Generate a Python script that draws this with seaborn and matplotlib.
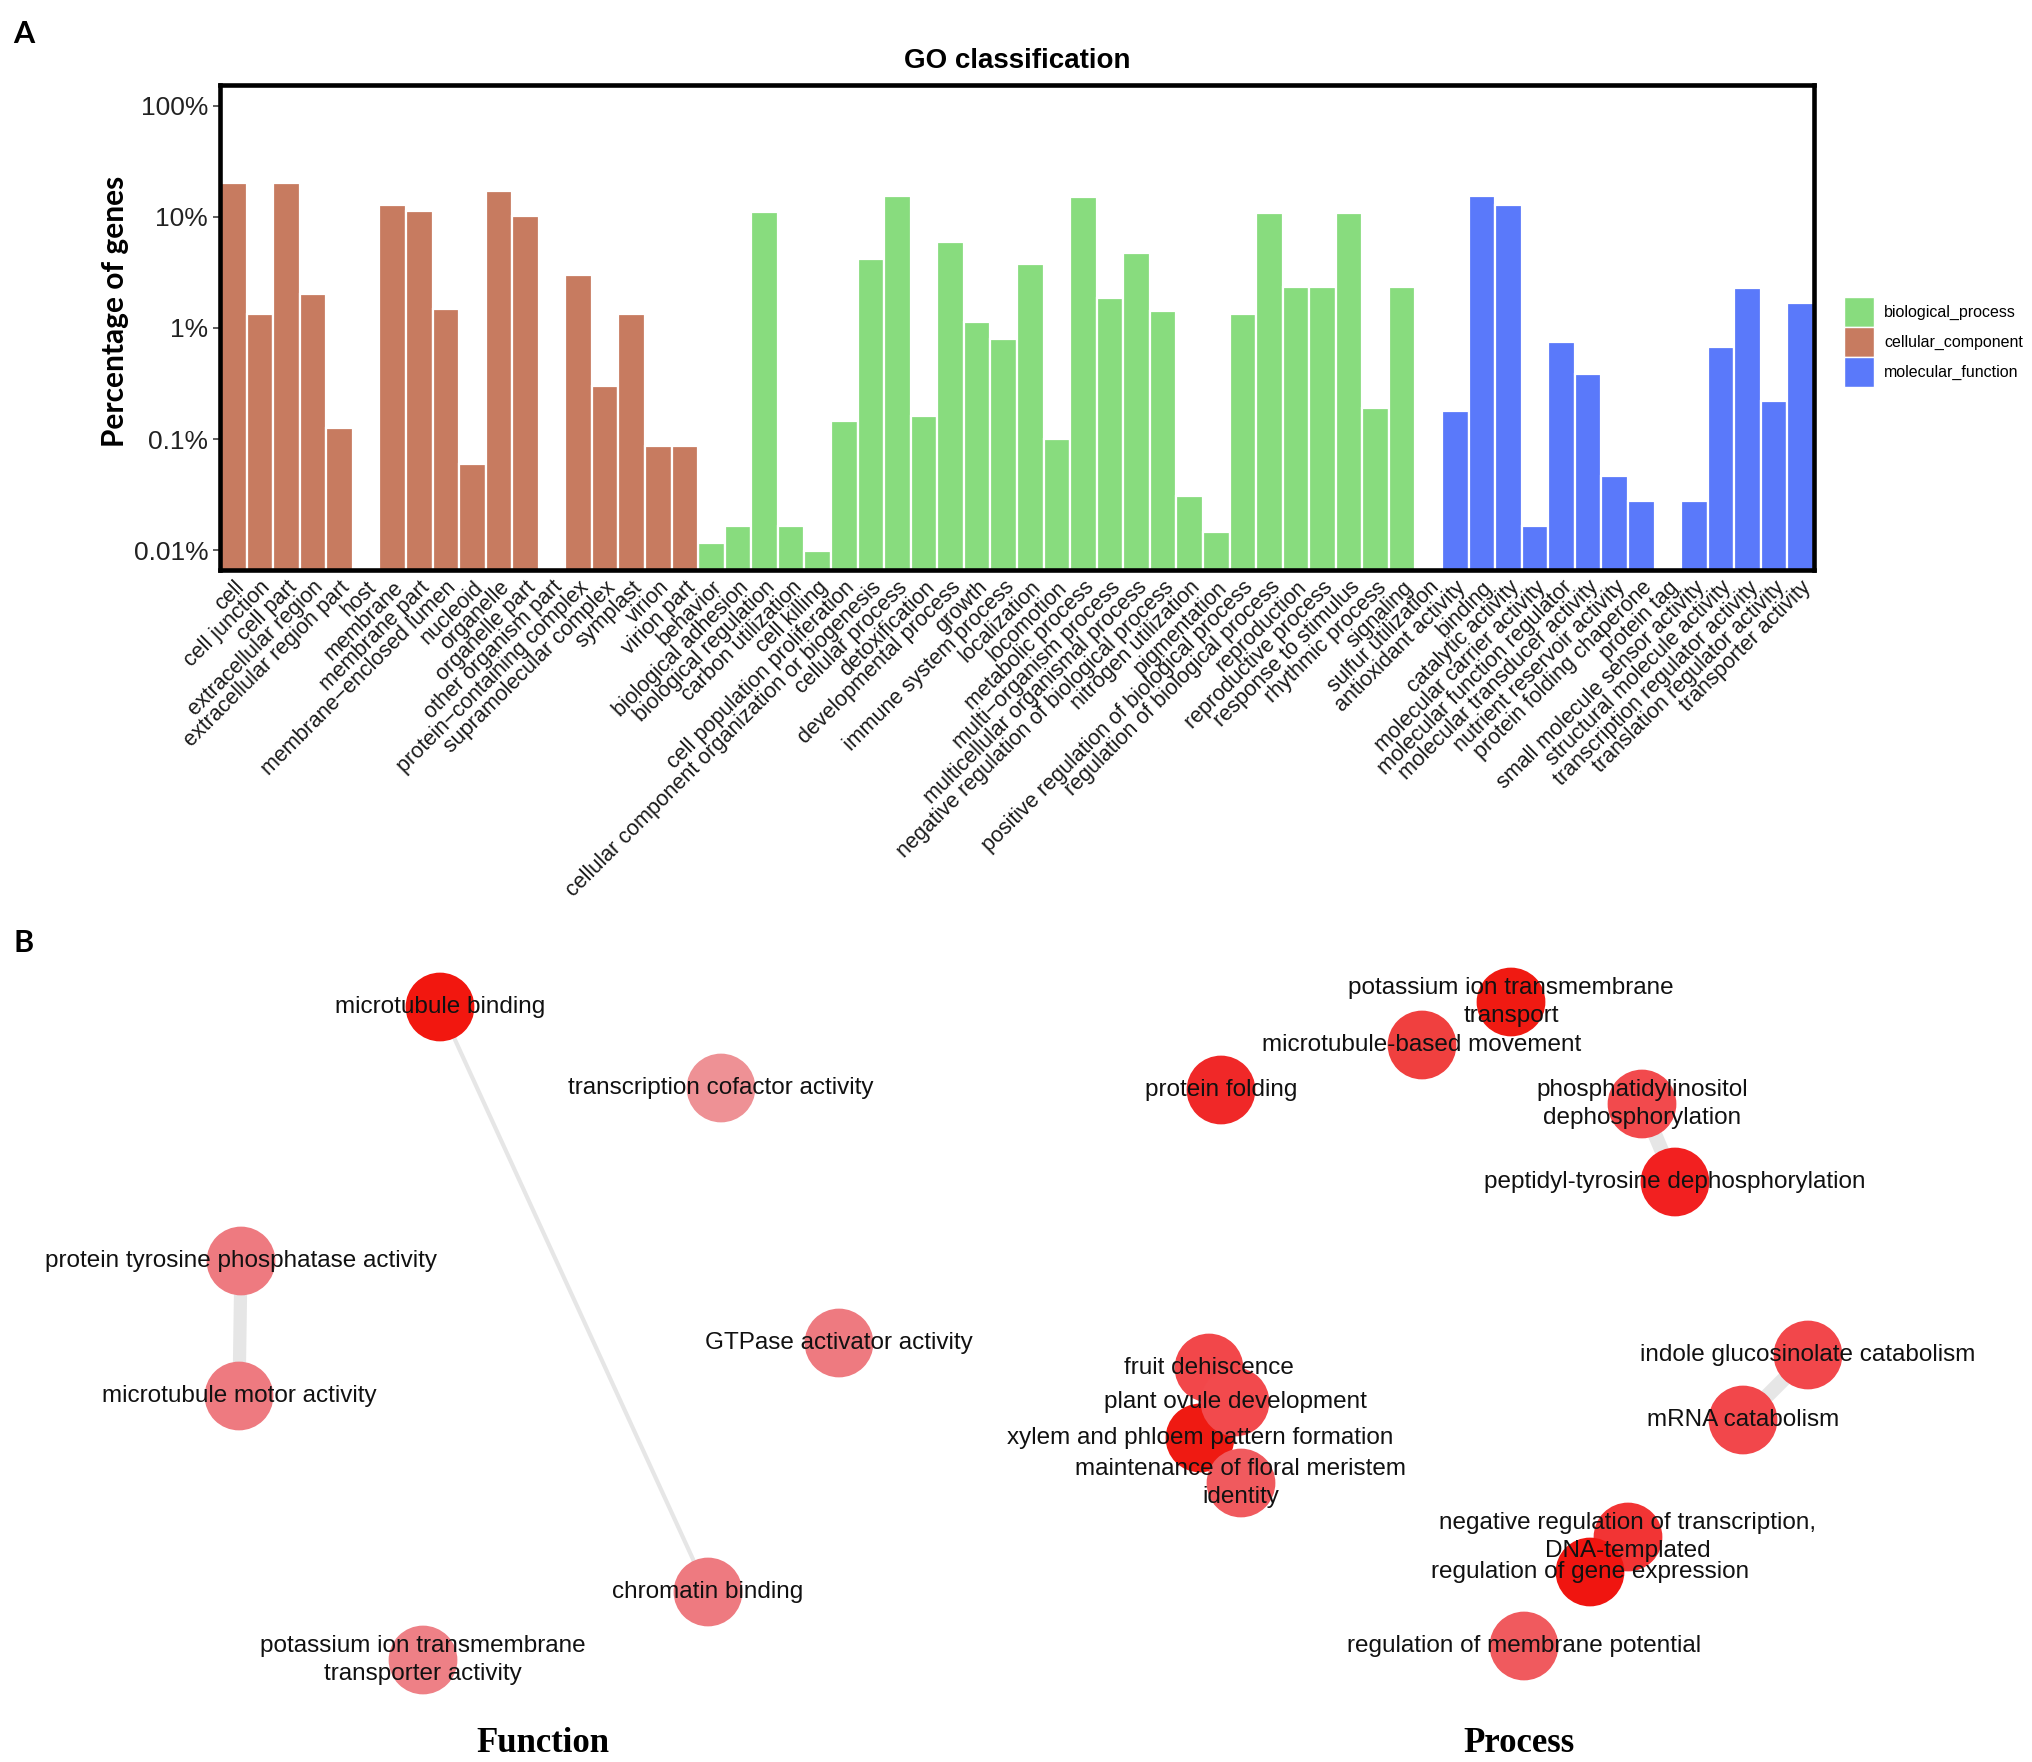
import numpy as np
import pandas as pd
import matplotlib
matplotlib.use("Agg")
import matplotlib.pyplot as plt
import seaborn as sns

# -- panel A: GO classification (percent of genes)
cc_terms = ["cell", "cell junction", "cell part", "extracellular region", "extracellular region part",
            "host", "membrane", "membrane part", "membrane\u2212enclosed lumen", "nucleoid", "organelle",
            "organelle part", "other organism part", "protein\u2212containing complex",
            "supramolecular complex", "symplast", "virion", "virion part"]
cc_pct = [20.3, 1.33, 20.3, 2.0, 0.126, 0, 12.8, 11.2, 1.47, 0.060, 17.0, 10.1, 0, 3.0, 0.30,
          1.33, 0.086, 0.086]

bp_terms = ["behavior", "biological adhesion", "biological regulation", "carbon utilization",
            "cell killing", "cell population proliferation",
            "cellular component organization or biogenesis", "cellular process", "detoxification",
            "developmental process", "growth", "immune system process", "localization", "locomotion",
            "metabolic process", "multi\u2212organism process", "multicellular organismal process",
            "negative regulation of biological process", "nitrogen utilization", "pigmentation",
            "positive regulation of biological process", "regulation of biological process",
            "reproduction", "reproductive process", "response to stimulus", "rhythmic process",
            "signaling", "sulfur utilization"]
bp_pct = [0.0116, 0.0167, 11.1, 0.0167, 0.0099, 0.147, 4.2, 15.5, 0.161, 5.9, 1.14, 0.79, 3.74,
          0.101, 15.0, 1.87, 4.74, 1.42, 0.031, 0.0147, 1.33, 10.7, 2.34, 2.34, 10.7, 0.19, 2.34, 0]

mf_terms = ["antioxidant activity", "binding", "catalytic activity", "molecular carrier activity",
            "molecular function regulator", "molecular transducer activity",
            "nutrient reservoir activity", "protein folding chaperone", "protein tag",
            "small molecule sensor activity", "structural molecule activity",
            "transcription regulator activity", "translation regulator activity",
            "transporter activity"]
mf_pct = [0.179, 15.5, 12.8, 0.0167, 0.74, 0.386, 0.047, 0.0277, 0, 0.0277, 0.68, 2.27, 0.222, 1.66]

ontologies = ["biological_process", "cellular_component", "molecular_function"]
onto_colors = ["#88dc7e", "#c77b60", "#5a79fa"]
y_ticks = [100, 10, 1, 0.1, 0.01]
y_ticklabels = ["100%", "10%", "1%", "0.1%", "0.01%"]

# -- panel B: enriched GO term networks
func_terms = ["microtubule binding", "transcription cofactor activity",
              "protein tyrosine phosphatase activity", "microtubule motor activity",
              "GTPase activator activity", "chromatin binding",
              "potassium ion transmembrane\ntransporter activity"]
func_x = [440, 721, 241, 239, 839, 708, 423]
func_y = [1007, 1088, 1261, 1396, 1343, 1592, 1660]
func_colors = ["#f2170f", "#ee9195", "#ee7a80", "#ee7a80", "#ee7a80", "#ee7a80", "#ee8086"]

proc_terms = ["potassium ion transmembrane\ntransport", "microtubule-based movement",
              "protein folding", "phosphatidylinositol\ndephosphorylation",
              "peptidyl-tyrosine dephosphorylation", "fruit dehiscence",
              "xylem and phloem pattern formation", "plant ovule development",
              "maintenance of floral meristem\nidentity", "indole glucosinolate catabolism",
              "mRNA catabolism", "negative regulation of transcription,\nDNA-templated",
              "regulation of gene expression", "regulation of membrane potential"]
proc_x = [1511, 1422, 1221, 1642, 1675, 1209, 1200, 1235, 1241, 1808, 1743, 1628, 1590, 1524]
proc_y = [1002, 1045, 1090, 1104, 1182, 1368, 1438, 1402, 1483, 1355, 1420, 1537, 1572, 1646]
proc_colors = ["#f01a12", "#f0403f", "#f02828", "#f24a4d", "#f22020", "#f2474a", "#ef1a12",
               "#f24a4d", "#f05a5e", "#f2474b", "#f2474b", "#f23434", "#f01510", "#f05a5e"]

edge_src = ["microtubule binding", "protein tyrosine phosphatase activity",
            "phosphatidylinositol\ndephosphorylation", "indole glucosinolate catabolism"]
edge_dst = ["chromatin binding", "microtubule motor activity",
            "peptidyl-tyrosine dephosphorylation", "mRNA catabolism"]
edge_w = [3.0, 9.5, 10.5, 10.5]

plt.rcParams['font.family'] = ['Liberation Sans', 'DejaVu Sans']

go = pd.DataFrame({
    "term": cc_terms + bp_terms + mf_terms,
    "pct": cc_pct + bp_pct + mf_pct,
    "ontology": ["cellular_component"] * len(cc_terms) + ["biological_process"] * len(bp_terms)
                + ["molecular_function"] * len(mf_terms),
})
palette = dict(zip(ontologies, onto_colors))

W, H = 2033, 1762
fig = plt.figure(figsize=(W / 100, H / 100), dpi=100)

ax = fig.add_axes([220 / W, 1 - 570 / H, (1814 - 220) / W, (570 - 85) / H])
sns.barplot(data=go, x="term", y="pct", hue="ontology", hue_order=ontologies, palette=palette,
            order=list(go["term"]), dodge=False, width=1.0, saturation=1,
            edgecolor="white", linewidth=1.6, ax=ax)
ax.set_yscale("log")
ax.set_ylim(0.00665, 153)
ax.set_xlim(-0.5, len(go) - 0.5)
ax.set_yticks(y_ticks)
ax.set_yticklabels(y_ticklabels)
ax.minorticks_off()
ax.tick_params(axis="y", labelsize=19, length=5, width=1.1, color="#333333", pad=3.5,
               labelcolor="#222222")
ax.tick_params(axis="x", labelsize=15.5, length=0, pad=5, labelcolor="#1a1a1a")
plt.setp(ax.get_xticklabels(), rotation=45, ha="right", va="top", rotation_mode="anchor")
ax.set_xlabel("")
ax.set_ylabel("Percentage of genes", fontsize=21.5, fontweight="bold", family=["Lato", "DejaVu Sans"])
ax.yaxis.set_label_coords(-0.0568, 0.534)
ax.set_title("GO classification", fontsize=20, fontweight="bold", pad=12)
for s in ax.spines.values():
    s.set_linewidth(3.3)
    s.set_color("black")

handles, labels = ax.get_legend_handles_labels()
ax.get_legend().remove()
leg = fig.legend(handles, labels, loc="upper left", bbox_to_anchor=(1844 / W, 1 - 297 / H),
                 frameon=False, fontsize=11.5, handlelength=1.85, handleheight=2.5,
                 labelspacing=0.0, handletextpad=0.65, borderpad=0, borderaxespad=0)
for p in leg.get_patches():
    p.set_edgecolor("white")
    p.set_linewidth(1.0)

fig.text(24 / W, 1 - 34 / H, "A", fontsize=22, fontweight="bold", ha="center", va="center",
         family=["Lato", "DejaVu Sans"])
fig.text(24 / W, 1 - 943 / H, "B", fontsize=22, fontweight="bold", ha="center", va="center",
         family=["Lato", "DejaVu Sans"])

# -- panel B
axb = fig.add_axes([0, 0, 1, 862 / H])

nodes = pd.DataFrame({
    "term": func_terms + proc_terms,
    "x": func_x + proc_x,
    "y": func_y + proc_y,
    "color": func_colors + proc_colors,
})
pos = {t: (x, y) for t, x, y in zip(nodes["term"], nodes["x"], nodes["y"])}

for a, b, w in zip(edge_src, edge_dst, edge_w):
    axb.plot([pos[a][0], pos[b][0]], [pos[a][1], pos[b][1]], color="#e6e6e6", lw=w,
             solid_capstyle="butt", zorder=1)

sns.scatterplot(data=nodes, x="x", y="y", hue="term", palette=dict(zip(nodes["term"], nodes["color"])),
                s=2450, linewidth=0, legend=False, ax=axb, zorder=2)
axb.set_xlim(0, W)
axb.set_ylim(H, 900)
axb.axis("off")

for t, x, y in zip(nodes["term"], nodes["x"], nodes["y"]):
    axb.text(x, y, t, ha="center", va="center", fontsize=17.5, color="#111111",
             linespacing=1.3, zorder=3)

axb.text(543, 1743, "Function", ha="center", va="center", fontsize=25, fontweight="bold",
         family=["Liberation Serif", "DejaVu Serif"])
axb.text(1519, 1743, "Process", ha="center", va="center", fontsize=25, fontweight="bold",
         family=["Liberation Serif", "DejaVu Serif"])

fig.savefig("out.png", dpi=100)
